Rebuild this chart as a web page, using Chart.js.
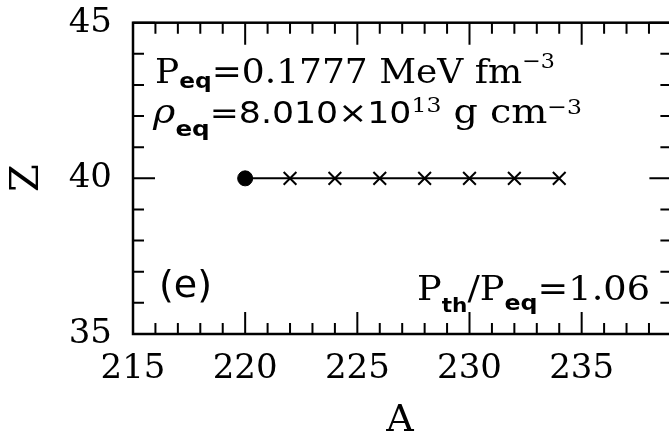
<!DOCTYPE html>
<html>
<head>
<meta charset="utf-8">
<script src="https://cdn.jsdelivr.net/npm/chart.js@4.4.1/dist/chart.umd.min.js"></script>
<style>
  html, body { margin: 0; padding: 0; background: #fff; overflow: hidden; }
  #wrap { position: absolute; left: 0; top: 0; width: 674px; height: 442px; }
  canvas { display: block; }
</style>
</head>
<body>
<div id="wrap"><canvas id="c" width="674" height="442" style="width:674px;height:442px"></canvas></div>
<script>
// Nuclide chain at equilibrium: mass number A and proton number Z
const eqA = [220];
const eqZ = [40];
const chainA = [222, 224, 226, 228, 230, 232, 234];
const chainZ = [40, 40, 40, 40, 40, 40, 40];

const xTickValues = [215, 220, 225, 230, 235];
const xTickLabels = ['215', '220', '225', '230', '235'];
const yTickValues = [35, 40, 45];
const yTickLabels = ['35', '40', '45'];

const SERIF = '"DejaVu Serif", serif';
const SANS = '"DejaVu Sans", sans-serif';

// full path from the equilibrium nucleus through the chain
const pathA = eqA.concat(chainA);
const pathZ = eqZ.concat(chainZ);

// draw a run of text pieces [text, font, dy], stretched horizontally to span x0..x1
function runs(ctx, parts, x0, x1, y) {
  let total = 0;
  parts.forEach(p => { ctx.font = p[1]; total += ctx.measureText(p[0]).width; });
  const k = (x1 - x0) / total;
  ctx.save();
  ctx.translate(x0, y);
  ctx.scale(k, 1);
  ctx.textBaseline = 'alphabetic';
  ctx.textAlign = 'left';
  let cx = 0;
  parts.forEach(p => {
    ctx.font = p[1];
    ctx.fillText(p[0], cx, p[2] || 0);
    cx += ctx.measureText(p[0]).width;
  });
  ctx.restore();
}

const frame = {
  id: 'frame',
  afterDraw(chart) {
    const { ctx, chartArea: a, scales: { x, y } } = chart;
    ctx.save();
    ctx.strokeStyle = '#000';
    ctx.lineWidth = 2.5;
    ctx.strokeRect(a.left, a.top, a.right - a.left, a.bottom - a.top);
    ctx.lineWidth = 2;
    ctx.beginPath();
    for (let v = x.min; v <= x.max; v++) {
      const px = x.getPixelForValue(v);
      const len = v % 5 === 0 ? 22 : 11;
      ctx.moveTo(px, a.bottom); ctx.lineTo(px, a.bottom - len);
      ctx.moveTo(px, a.top); ctx.lineTo(px, a.top + len);
    }
    for (let v = y.min; v <= y.max; v++) {
      const py = y.getPixelForValue(v);
      const len = v % 5 === 0 ? 22 : 11;
      ctx.moveTo(a.left, py); ctx.lineTo(a.left + len, py);
      ctx.moveTo(a.right, py); ctx.lineTo(a.right - len, py);
    }
    ctx.stroke();

    ctx.fillStyle = '#000';
    // axis titles
    ctx.textAlign = 'center';
    ctx.textBaseline = 'middle';
    ctx.font = '38px ' + SERIF;
    ctx.fillText('A', 400, 421);
    ctx.save();
    ctx.translate(28, 178);
    ctx.rotate(-Math.PI / 2);
    ctx.font = '40px ' + SERIF;
    ctx.fillText('Z', 0, 0);
    ctx.restore();

    // annotations
    const big = '34px ' + SERIF;
    const bigSans = '31px ' + SANS;
    const sub = 'bold 22px ' + SANS;
    const subT = 'bold 20px ' + SANS;
    const sup = '21px ' + SERIF;
    runs(ctx, [
      ['P', big], ['eq', sub, 5], ['=0.1777 MeV fm', big], ['\u22123', sup, -15]
    ], 155, 555, 83);
    runs(ctx, [
      ['\u03C1', 'italic 34px ' + SERIF], ['eq', sub, 13], ['=8.010\u00D710', bigSans], ['13', sup, -11],
      [' g cm', big], ['\u22123', sup, -9]
    ], 153, 582, 123);
    runs(ctx, [
      ['P', big], ['th', subT, 12], ['/P', big], ['eq', sub, 10], ['=1.06', big]
    ], 417, 650, 300);
    ctx.font = '38px ' + SANS;
    ctx.textAlign = 'left';
    ctx.textBaseline = 'alphabetic';
    ctx.fillText('(e)', 159, 297);
    ctx.restore();
  }
};

new Chart(document.getElementById('c'), {
  type: 'scatter',
  data: {
    datasets: [
      {
        data: pathA.map((a, i) => ({ x: a, y: pathZ[i] })),
        showLine: true, borderColor: '#000', borderWidth: 2,
        pointRadius: 0, order: 3
      },
      {
        data: eqA.map((a, i) => ({ x: a, y: eqZ[i] })),
        pointStyle: 'circle', pointRadius: 7.5,
        backgroundColor: '#000', borderColor: '#000', order: 1
      },
      {
        data: chainA.map((a, i) => ({ x: a, y: chainZ[i] })),
        pointStyle: 'crossRot', pointRadius: 9,
        borderColor: '#000', borderWidth: 2, order: 2
      }
    ]
  },
  options: {
    responsive: false,
    animation: false,
    events: [],
    layout: { autoPadding: false, padding: { left: 0, right: 2.6, top: 22.7, bottom: 0 } },
    plugins: { legend: { display: false }, tooltip: { enabled: false } },
    scales: {
      x: {
        type: 'linear', min: 215, max: 239,
        grid: { display: false }, border: { display: false },
        afterBuildTicks: s => { s.ticks = xTickValues.map(v => ({ value: v })); },
        afterFit: s => { s.height = 108; s.paddingLeft = 0; s.paddingRight = 0; },
        ticks: {
          callback: v => xTickLabels[xTickValues.indexOf(v)] ?? '',
          font: { family: SERIF, size: 34 }, color: '#000', padding: 7,
          maxRotation: 0, autoSkip: false
        }
      },
      y: {
        type: 'linear', min: 35, max: 45,
        grid: { display: false }, border: { display: false },
        afterBuildTicks: s => { s.ticks = yTickValues.map(v => ({ value: v })); },
        afterFit: s => { s.width = 133; s.paddingTop = 0; s.paddingBottom = 0; },
        ticks: {
          callback: v => yTickLabels[yTickValues.indexOf(v)] ?? '',
          font: { family: SERIF, size: 34 }, color: '#000', padding: 13
        }
      }
    }
  },
  plugins: [frame]
});
</script>
</body>
</html>
